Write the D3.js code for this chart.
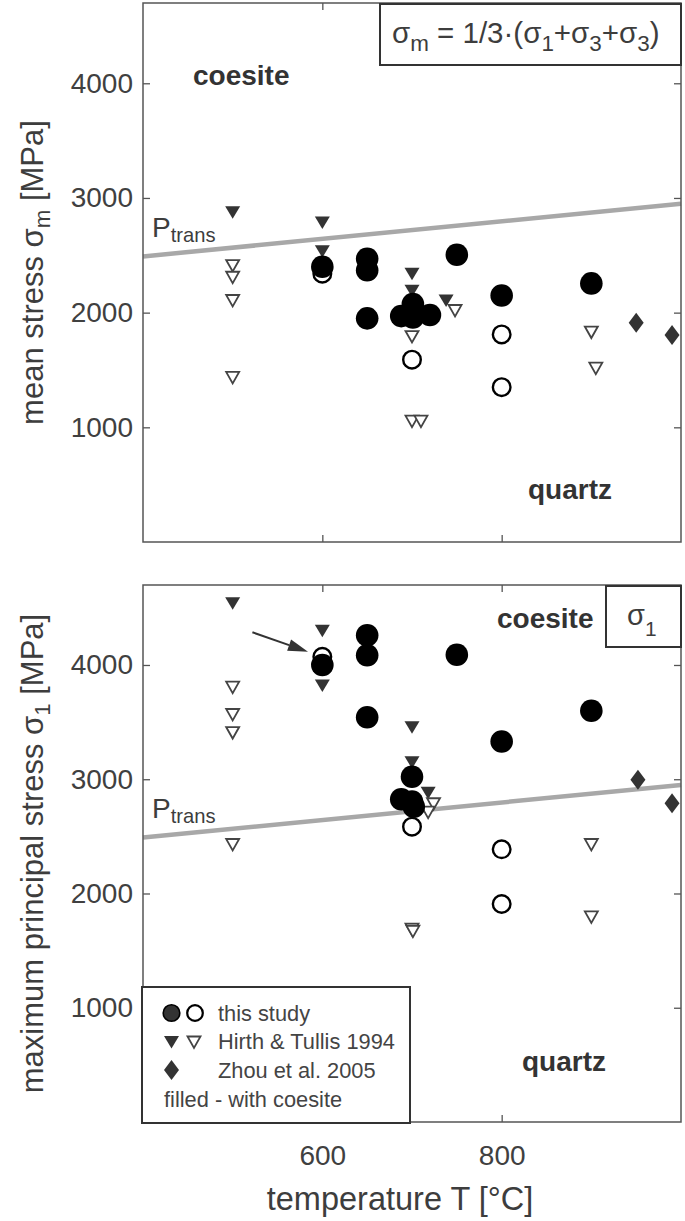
<!DOCTYPE html>
<html><head><meta charset="utf-8">
<script src="https://cdn.jsdelivr.net/npm/d3@7"></script>
<style>
body{margin:0;background:#fff}
svg{display:block}
text{font-family:"Liberation Sans",Arial,Helvetica,sans-serif}
</style>
</head><body>
<svg id="chart" width="685" height="1221"></svg>
<script>
// ---------- data ----------
const xTicks = [600, 800];
const yTicks = [1000, 2000, 3000, 4000];
const xDomain = [400, 1000];
const yDomain = [0, 4700];
const ptransT = [400, 1000];
const ptransP = [2490, 2950];

// top panel: mean stress sigma_m [MPa]
const meanThisFilledT = [600, 650, 650, 650, 750, 688, 701, 701, 720, 800, 900];
const meanThisFilledS = [2400, 2470, 2370, 1950, 2505, 1970, 2075, 1958, 1980, 2150, 2255];
const meanThisOpenT = [600, 700, 800, 800];
const meanThisOpenS = [2340, 1590, 1810, 1350];
const meanHirthFilledT = [500, 600, 600, 700, 700, 738];
const meanHirthFilledS = [2880, 2790, 2540, 2343, 2195, 2110];
const meanHirthOpenT = [500, 500, 500, 500, 700, 700, 710, 748, 900, 905];
const meanHirthOpenS = [2415, 2313, 2110, 1440, 1796, 1058, 1058, 2023, 1835, 1520];
const meanZhouT = [950, 990];
const meanZhouS = [1912, 1805];

// bottom panel: maximum principal stress sigma_1 [MPa]
const s1ThisFilledT = [600, 650, 650, 750, 650, 800, 900, 700, 688, 700, 702];
const s1ThisFilledS = [4000, 4260, 4085, 4090, 3542, 3330, 3600, 3022, 2825, 2805, 2760];
const s1ThisOpenT = [600, 700, 800, 800];
const s1ThisOpenS = [4072, 2585, 2387, 1908];
const s1HirthFilledT = [500, 600, 600, 700, 700, 718];
const s1HirthFilledS = [4545, 4305, 3825, 3460, 3153, 2885];
const s1HirthOpenT = [500, 500, 500, 500, 724, 718, 900, 900, 700, 701];
const s1HirthOpenS = [3810, 3571, 3413, 2433, 2790, 2716, 2433, 1800, 1692, 1674];
const s1ZhouT = [952, 990];
const s1ZhouS = [2995, 2790];

// annotation arrow in bottom panel (tail -> head), data units
const arrowT = [522, 584];
const arrowS = [4286, 4116];

const legendLabels = ["this study", "Hirth & Tullis 1994", "Zhou et al. 2005", "filled - with coesite"];

// ---------- drawing ----------
const svg = d3.select("#chart");
const FONT = '"Liberation Sans",Arial,Helvetica,sans-serif';
const TXT = "#3d3d3d";
const X0 = 143, X1 = 681;

const triFilled = "M-7.5,-5.5L7.5,-5.5L0,7Z";
const triOpen = "M-6.5,-5L6.5,-5L0,6.5Z";
const diamond = "M0,-10L7.5,0L0,10L-7.5,0Z";

function rich(sel, parts, size, shift, subScale) {
  let prev = false;
  parts.forEach(([t, sub]) => {
    const ts = sel.append("tspan").text(t);
    if (sub) ts.attr("font-size", size * (subScale || 0.72));
    if (sub && !prev) ts.attr("dy", shift);
    if (!sub && prev) ts.attr("dy", -shift);
    prev = sub;
  });
}

function zip(a, b) { return a.map((d, i) => [d, b[i]]); }

function drawPanel(p) {
  const x = d3.scaleLinear().domain(xDomain).range([X0, X1]);
  const y = d3.scaleLinear().domain(yDomain).range([p.bottom, p.top]);
  const g = svg.append("g");

  g.append("line")
    .attr("x1", x(ptransT[0])).attr("y1", y(ptransP[0]))
    .attr("x2", x(ptransT[1])).attr("y2", y(ptransP[1]))
    .attr("stroke", "#a8a8a8").attr("stroke-width", 4.5);

  g.selectAll(".hf").data(zip(p.hfT, p.hfS)).join("path")
    .attr("d", triFilled).attr("fill", "#333")
    .attr("transform", d => `translate(${x(d[0])},${y(d[1])})`);
  g.selectAll(".ho").data(zip(p.hoT, p.hoS)).join("path")
    .attr("d", triOpen).attr("fill", "#fff").attr("stroke", "#444").attr("stroke-width", 1.8)
    .attr("transform", d => `translate(${x(d[0])},${y(d[1])})`);
  g.selectAll(".to").data(zip(p.toT, p.toS)).join("circle")
    .attr("cx", d => x(d[0])).attr("cy", d => y(d[1])).attr("r", 8.8)
    .attr("fill", "#fff").attr("stroke", "#000").attr("stroke-width", 2.4);
  g.selectAll(".tf").data(zip(p.tfT, p.tfS)).join("circle")
    .attr("cx", d => x(d[0])).attr("cy", d => y(d[1])).attr("r", 11.3)
    .attr("fill", "#000");
  g.selectAll(".zh").data(zip(p.zT, p.zS)).join("path")
    .attr("d", diamond).attr("fill", "#333")
    .attr("transform", d => `translate(${x(d[0])},${y(d[1])})`);

  g.append("rect").attr("x", X0).attr("y", p.top).attr("width", X1 - X0).attr("height", p.bottom - p.top)
    .attr("fill", "none").attr("stroke", "#555").attr("stroke-width", 1.5);

  const style = a => {
    a.select(".domain").remove();
    a.selectAll("line").attr("stroke", "#555").attr("stroke-width", 1.3);
    a.attr("font-family", FONT).attr("font-size", 28);
    a.selectAll("text").attr("fill", "#404040");
  };
  g.append("g").attr("transform", `translate(${X0},0)`)
    .call(d3.axisLeft(y).tickValues(yTicks).tickSize(-7).tickPadding(10).tickFormat(d3.format("d"))).call(style);
  g.append("g").attr("transform", `translate(${X1},0)`)
    .call(d3.axisRight(y).tickValues(yTicks).tickSize(-7).tickFormat("")).call(style);
  g.append("g").attr("transform", `translate(0,${p.top})`)
    .call(d3.axisTop(x).tickValues(xTicks).tickSize(-7).tickFormat("")).call(style);
  g.append("g").attr("transform", `translate(0,${p.bottom})`)
    .call(d3.axisBottom(x).tickValues(xTicks).tickSize(-7).tickPadding(23)
      .tickFormat(p.xLabels ? d3.format("d") : "")).call(style);

  const pt = g.append("text").attr("x", 152).attr("y", p.ptransY)
    .attr("font-size", 28).attr("fill", TXT);
  rich(pt, [["P", 0], ["trans", 1]], 28, 5);

  g.append("text").attr("x", p.coesite[0]).attr("y", p.coesite[1])
    .attr("font-size", 28).attr("font-weight", "bold").attr("fill", "#333").text("coesite");
  g.append("text").attr("x", p.quartz[0]).attr("y", p.quartz[1])
    .attr("font-size", 28).attr("font-weight", "bold").attr("fill", "#333").text("quartz");

  const yl = g.append("text")
    .attr("transform", `translate(43,${(p.top + p.bottom) / 2}) rotate(-90)`)
    .attr("text-anchor", "middle").attr("font-size", 31).attr("fill", TXT);
  rich(yl, p.ylabel, 31, 7);

  return { x, y, g };
}

const topPanel = drawPanel({
  top: 3, bottom: 542,
  tfT: meanThisFilledT, tfS: meanThisFilledS, toT: meanThisOpenT, toS: meanThisOpenS,
  hfT: meanHirthFilledT, hfS: meanHirthFilledS, hoT: meanHirthOpenT, hoS: meanHirthOpenS,
  zT: meanZhouT, zS: meanZhouS,
  xLabels: false, ptransY: 237,
  coesite: [193, 85], quartz: [528, 499],
  ylabel: [["mean stress σ", 0], ["m", 1], [" [MPa]", 0]]
});

topPanel.g.append("rect").attr("x", 380).attr("y", 4).attr("width", 301).attr("height", 61)
  .attr("fill", "#fff").attr("stroke", "#333").attr("stroke-width", 2);
const ft = topPanel.g.append("text").attr("x", 392).attr("y", 43).attr("font-size", 29.5).attr("fill", TXT);
rich(ft, [["σ", 0], ["m", 1], [" = 1/3·(σ", 0], ["1", 1], ["+σ", 0], ["3", 1], ["+σ", 0], ["3", 1], [")", 0]], 29.5, 8, 0.76);

const botPanel = drawPanel({
  top: 585, bottom: 1122,
  tfT: s1ThisFilledT, tfS: s1ThisFilledS, toT: s1ThisOpenT, toS: s1ThisOpenS,
  hfT: s1HirthFilledT, hfS: s1HirthFilledS, hoT: s1HirthOpenT, hoS: s1HirthOpenS,
  zT: s1ZhouT, zS: s1ZhouS,
  xLabels: true, ptransY: 818,
  coesite: [497, 628], quartz: [522, 1071],
  ylabel: [["maximum principal stress σ", 0], ["1", 1], [" [MPa]", 0]]
});

botPanel.g.append("rect").attr("x", 606).attr("y", 586).attr("width", 75).attr("height", 61)
  .attr("fill", "#fff").attr("stroke", "#333").attr("stroke-width", 2);
const s1t = botPanel.g.append("text").attr("x", 627).attr("y", 625).attr("font-size", 29).attr("fill", TXT);
rich(s1t, [["σ", 0], ["1", 1]], 29, 11);

{
  const ax0 = botPanel.x(arrowT[0]), ay0 = botPanel.y(arrowS[0]);
  const ax1 = botPanel.x(arrowT[1]), ay1 = botPanel.y(arrowS[1]);
  const ang = Math.atan2(ay1 - ay0, ax1 - ax0);
  const hl = 20, hw = 6;
  const bx = ax1 - hl * Math.cos(ang), by = ay1 - hl * Math.sin(ang);
  botPanel.g.append("line").attr("x1", ax0).attr("y1", ay0).attr("x2", bx).attr("y2", by)
    .attr("stroke", "#333").attr("stroke-width", 2);
  const px = -Math.sin(ang) * hw, py = Math.cos(ang) * hw;
  botPanel.g.append("path")
    .attr("d", `M${ax1},${ay1}L${bx + px},${by + py}L${bx - px},${by - py}Z`)
    .attr("fill", "#333");
}

{
  const lg = svg.append("g");
  lg.append("rect").attr("x", 142).attr("y", 987).attr("width", 268).attr("height", 136)
    .attr("fill", "#fff").attr("stroke", "#333").attr("stroke-width", 2);
  const rows = [1013, 1041.5, 1070];
  lg.append("circle").attr("cx", 171.5).attr("cy", rows[0]).attr("r", 8.3)
    .attr("fill", "#333").attr("stroke", "#000").attr("stroke-width", 1.6);
  lg.append("circle").attr("cx", 195).attr("cy", rows[0]).attr("r", 7.8)
    .attr("fill", "#fff").attr("stroke", "#000").attr("stroke-width", 2.2);
  lg.append("path").attr("d", triFilled).attr("fill", "#333")
    .attr("transform", `translate(171.5,${rows[1]})`);
  lg.append("path").attr("d", triOpen).attr("fill", "#fff").attr("stroke", "#444").attr("stroke-width", 1.8)
    .attr("transform", `translate(194,${rows[1]})`);
  lg.append("path").attr("d", diamond).attr("fill", "#333")
    .attr("transform", `translate(171.5,${rows[2]})`);
  const ty = [1021, 1049, 1077.5, 1106.5];
  const tx = [218, 218, 218, 164];
  legendLabels.forEach((t, i) => {
    lg.append("text").attr("x", tx[i]).attr("y", ty[i]).attr("font-size", 21.8)
      .attr("fill", "#444").text(t);
  });
}

svg.append("text").attr("x", 400).attr("y", 1210).attr("text-anchor", "middle")
  .attr("font-size", 32.5).attr("fill", TXT).text("temperature T [°C]");
</script>
</body></html>
